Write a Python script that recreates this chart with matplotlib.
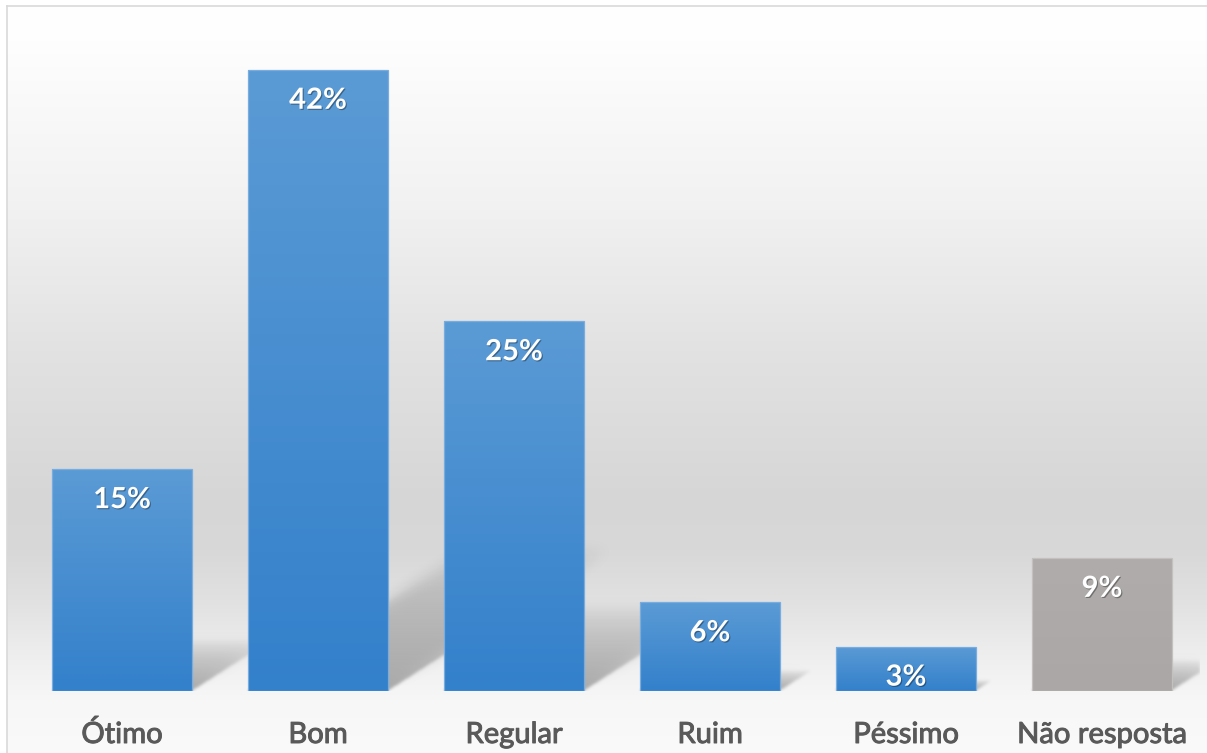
import numpy as np
import matplotlib
matplotlib.use("Agg")
import matplotlib.pyplot as plt
from matplotlib import patheffects as pe
from matplotlib.lines import Line2D

# ---- data -------------------------------------------------------------
categories = ["Ótimo", "Bom", "Regular", "Ruim", "Péssimo", "Não resposta"]
values = [15, 42, 25, 6, 3, 9]
value_labels = ["15%", "42%", "25%", "6%", "3%", "9%"]
bar_kinds = ["blue", "blue", "blue", "blue", "blue", "gray"]

# ---- styling ----------------------------------------------------------
W, H, DPI = 1207, 753, 100
BAR_W = 0.714
Y_MAX = 45
FONT = "Lato"
GRADIENTS = {"blue": ("#5b9bd5", "#3380cb"), "gray": ("#b0acac", "#aba7a7")}
EDGES = {"blue": "#79ade0", "gray": "#c4c0c0"}

fig = plt.figure(figsize=(W / DPI, H / DPI), dpi=DPI)
fig.patch.set_facecolor("white")

# ---- chart area background: vertical grey gradient inside a thin frame --
bg = fig.add_axes([0, 0, 1, 1], zorder=0)
bg.set_axis_off()
rows = np.arange(H)
stop_y = [0, 40, 200, 350, 500, 550, 600, 650, 700, 753]
stop_v = [255, 254, 242, 226, 214, 216, 225, 237, 247, 250]
grey = np.interp(rows, stop_y, stop_v) / 255.0
bg_img = np.ones((H, W, 3))
bg_img[6:, 7:, :] = grey[6:, None, None]
bg.imshow(bg_img, extent=(0, W, H, 0), aspect="auto", interpolation="bilinear")
bg.set_xlim(0, W)
bg.set_ylim(H, 0)
frame_c = "#d9d9d9"
fig.add_artist(Line2D([7 / W, 7 / W], [0, 1 - 6 / H], color=frame_c, lw=1.2))
fig.add_artist(Line2D([7 / W, 1], [1 - 6 / H, 1 - 6 / H], color=frame_c, lw=1.2))

# ---- plot axes ----------------------------------------------------------
ax_l, ax_b = 24 / W, 1 - 691 / H
ax_w, ax_h = 1176 / W, 665.6 / H
ax = fig.add_axes([ax_l, ax_b, ax_w, ax_h], zorder=1)
ax.patch.set_alpha(0)
ax.set_axis_off()

n = len(values)
x_lo, x_hi = -0.5, n - 0.5

# ---- perspective floor shadows cast by each bar ------------------------
nx, ny = 1176, 666
xs = np.linspace(x_lo, x_hi, nx)
ys = np.linspace(Y_MAX, 0, ny)
X, Y = np.meshgrid(xs, ys)
px_per_x = nx / (x_hi - x_lo)
px_per_y = ny / Y_MAX
rise, run = 0.23, 0.36          # shadow length relative to bar height
slant = (run / rise) * px_per_y / px_per_x
alpha = np.zeros_like(X)
for i, v in enumerate(values):
    length = rise * v
    s = Y / length
    u = X - slant * Y
    inside = (s >= 0) & (s <= 1) & (u >= i - BAR_W / 2) & (u <= i + BAR_W / 2)
    a = np.where(inside, 0.31 * np.clip(1 - s, 0, 1) ** 0.6, 0.0)
    alpha = np.maximum(alpha, a)


def blur(img, sigma):
    r = int(3 * sigma)
    t = np.arange(-r, r + 1)
    k = np.exp(-t ** 2 / (2 * sigma ** 2))
    k /= k.sum()
    out = np.apply_along_axis(lambda m: np.convolve(m, k, mode="same"), 1, img)
    out = np.apply_along_axis(lambda m: np.convolve(m, k, mode="same"), 0, out)
    return out


near = blur(alpha, 1.5)
far = blur(alpha, 7.0)
wgt = np.clip(Y * px_per_y / 110.0, 0, 1)
shadow = near * (1 - wgt) + far * wgt
rgba = np.zeros((ny, nx, 4))
rgba[..., 3] = shadow
ax.imshow(rgba, extent=(x_lo, x_hi, 0, Y_MAX), aspect="auto",
          interpolation="bilinear", zorder=1)

# ---- bars with vertical gradient fill -----------------------------------
bars = ax.bar(range(n), values, width=BAR_W, facecolor="none", zorder=3,
              linewidth=0.9)
for i, (bar, kind) in enumerate(zip(bars, bar_kinds)):
    bar.set_edgecolor(EDGES[kind])
    top_c, bot_c = GRADIENTS[kind]
    tc = np.array(matplotlib.colors.to_rgb(top_c))
    bc = np.array(matplotlib.colors.to_rgb(bot_c))
    f = np.linspace(0, 1, 256)[:, None]
    grad = (tc * (1 - f) + bc * f)[:, None, :]
    x0 = bar.get_x()
    im = ax.imshow(grad, extent=(x0, x0 + bar.get_width(), 0, bar.get_height()),
                   aspect="auto", interpolation="bilinear", zorder=2.5)
    im.set_clip_path(bar)

ax.set_xlim(x_lo, x_hi)
ax.set_ylim(0, Y_MAX)

# ---- value labels inside bars and category names below ------------------
txt_shadow = [pe.SimplePatchShadow(offset=(0.8, -0.8), shadow_rgbFace="black",
                                   alpha=0.35), pe.Normal()]
for i, (v, lab) in enumerate(zip(values, value_labels)):
    ax.annotate(lab, xy=(i, v), xytext=(0, -31), textcoords="offset pixels",
                ha="center", va="center", color="white", fontsize=21,
                fontweight="bold", family=FONT, zorder=5, path_effects=txt_shadow)

cat_color = "#595959"
cat_effect = [pe.withStroke(linewidth=0.7, foreground=cat_color)]
for i, cat in enumerate(categories):
    ax.annotate(cat, xy=(i, 0), xytext=(0, -52), textcoords="offset pixels",
                ha="center", va="baseline", color=cat_color, fontsize=21,
                family=FONT, zorder=5, annotation_clip=False,
                path_effects=cat_effect)

fig.savefig("out.png", dpi=DPI, facecolor="white")
